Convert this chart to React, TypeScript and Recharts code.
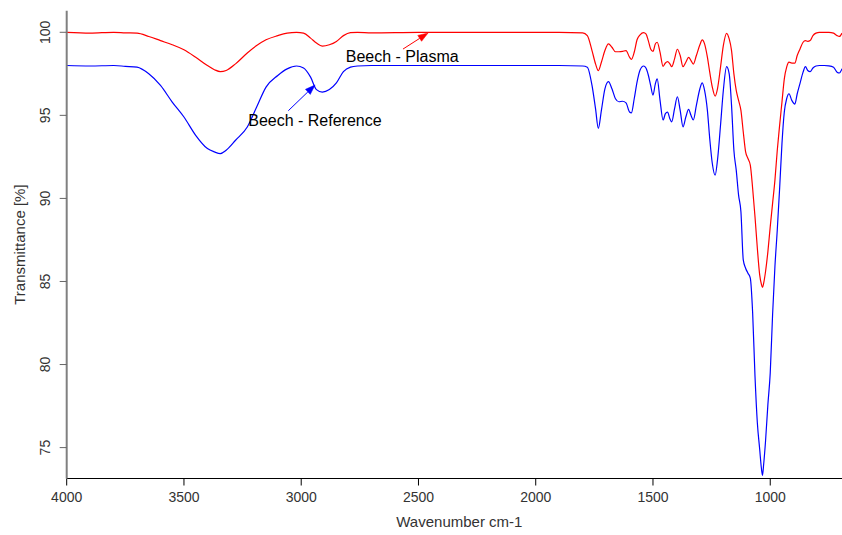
import { Line, LineChart, ReferenceDot, ReferenceLine, XAxis, YAxis } from 'recharts';

// FTIR spectra, wavenumbers in cm-1 (descending), transmittance in %
const WAVENUMBERS = [
  4000, 3900, 3800, 3750, 3700, 3650, 3600, 3550, 3500, 3450,
  3400, 3370, 3345, 3320, 3280, 3230, 3190, 3150, 3100, 3060,
  3020, 2990, 2960, 2935, 2910, 2880, 2850, 2820, 2790, 2760,
  2700, 2500, 2300, 2100, 1900, 1800, 1780, 1760, 1745, 1733,
  1720, 1705, 1690, 1675, 1660, 1645, 1630, 1615, 1600, 1592,
  1580, 1568, 1555, 1540, 1530, 1520, 1510, 1500, 1490, 1482,
  1470, 1457, 1447, 1438, 1428, 1420, 1408, 1396, 1384, 1372,
  1360, 1348, 1338, 1328, 1315, 1300, 1290, 1280, 1268, 1258,
  1247, 1235, 1225, 1212, 1200, 1186, 1175, 1165, 1155, 1145,
  1135, 1125, 1115, 1105, 1095, 1085, 1075, 1065, 1055, 1045,
  1038, 1033, 1028, 1020, 1010, 1000, 990, 980, 970, 960,
  950, 940, 930, 920, 908, 895, 885, 873, 860, 850,
  840, 830, 818, 805, 790, 770, 750, 730, 715, 705,
  694,
];

const PLASMA = [
  100.0, 99.95, 100.0, 99.97, 99.95, 99.75, 99.5, 99.25, 98.95, 98.5,
  98.0, 97.75, 97.63, 97.7, 98.1, 98.75, 99.2, 99.55, 99.8, 99.95,
  100.0, 99.95, 99.65, 99.35, 99.17, 99.25, 99.45, 99.8, 99.98, 100.0,
  99.97, 100.0, 100.0, 100.0, 100.0, 99.97, 99.8, 98.9, 98.1, 97.69,
  98.2, 98.9, 99.3, 99.1, 98.83, 98.83, 98.85, 98.9, 98.5, 98.37,
  98.8, 99.55, 99.85, 99.98, 99.9, 99.5, 99.0, 98.85, 99.3, 99.4,
  98.8, 97.95, 98.15, 98.23, 98.1, 97.93, 98.4, 98.98, 98.6, 97.93,
  98.2, 98.49, 98.3, 98.09, 98.6, 99.25, 99.54, 99.3, 98.5, 97.6,
  96.7, 96.16, 96.6, 97.9, 99.2, 99.94, 99.6, 98.9, 97.5, 96.5,
  95.9, 95.3, 94.0, 92.8, 92.4, 92.0, 90.6, 88.9, 87.0, 85.4,
  84.85, 84.64, 84.9, 85.6, 86.8, 88.3, 89.7, 91.1, 92.9, 94.4,
  95.8, 97.2, 97.9, 98.2, 98.15, 98.15, 98.6, 99.0, 99.4, 99.5,
  99.45, 99.5, 99.8, 99.95, 100.0, 100.0, 100.0, 99.95, 99.8, 99.75,
  99.95,
];

const REFERENCE = [
  98.0, 97.97, 98.0, 97.95, 97.9, 97.5, 96.8, 95.8, 94.9, 93.8,
  93.0, 92.8, 92.7, 92.9, 93.5, 94.3, 95.5, 96.7, 97.4, 97.8,
  97.97, 97.85, 97.3, 96.55, 96.4, 96.55, 96.95, 97.63, 97.9, 97.97,
  98.0, 98.0, 98.0, 98.0, 98.0, 97.97, 97.9, 96.8, 95.4, 94.22,
  95.3, 96.6, 97.03, 96.6, 96.0, 95.82, 95.85, 95.75, 95.2, 95.15,
  96.0, 97.0, 97.73, 97.97, 97.85, 97.43, 96.8, 96.22, 96.9, 97.2,
  95.92, 94.72, 95.1, 95.2, 94.8, 94.61, 95.4, 96.12, 95.3, 94.31,
  94.9, 95.36, 95.0, 94.72, 95.6, 96.6, 96.96, 96.5, 95.3, 93.6,
  92.1, 91.4, 92.3, 94.4, 96.5, 97.93, 97.5, 95.6, 92.9, 91.7,
  90.2, 89.2, 86.3, 85.8, 85.5, 85.2, 83.1, 79.3, 76.5, 74.9,
  73.8, 73.33, 74.0, 75.4, 77.6, 79.5, 83.0, 85.9, 88.1, 90.6,
  93.3, 95.2, 96.0, 96.3, 95.9, 95.68, 96.3, 96.93, 97.6, 97.93,
  97.7, 97.63, 97.85, 97.97, 98.0, 98.0, 97.98, 97.9, 97.6, 97.55,
  97.8,
];

const X_TICKS = [4000, 3500, 3000, 2500, 2000, 1500, 1000];
const Y_TICKS = [75, 80, 85, 90, 95, 100];
const X_DOMAIN = [694, 4000];
const Y_DOMAIN = [73.14, 101.3];

const ANNOTATIONS = [
  {
    key: 'plasma',
    label: 'Beech - Plasma',
    color: '#ff0000',
    from: { x: 2566, y: 98.99 },
    to: { x: 2459, y: 99.96 },
    text: { x: 2810, y: 98.23 },
  },
  {
    key: 'reference',
    label: 'Beech - Reference',
    color: '#0000ff',
    from: { x: 3055, y: 95.28 },
    to: { x: 2941, y: 96.83 },
    text: { x: 3226, y: 94.36 },
  },
];

const data = WAVENUMBERS.map((wn, i) => ({
  wn,
  plasma: PLASMA[i],
  reference: REFERENCE[i],
}));

const FONT = '"Liberation Sans", Arial, sans-serif';
const AXIS_TEXT = '#333';

function XTick({ x, y, payload }: any) {
  return (
    <text x={x} y={y + 14} textAnchor="middle" fontSize={14} fill={AXIS_TEXT} fontFamily={FONT}>
      {payload.value}
    </text>
  );
}

function YTick({ x, y, payload }: any) {
  const tx = x - 8;
  return (
    <text
      x={tx}
      y={y}
      transform={`rotate(-90, ${tx}, ${y})`}
      textAnchor="middle"
      fontSize={14}
      fill={AXIS_TEXT}
      fontFamily={FONT}
    >
      {payload.value}
    </text>
  );
}

function arrowShape(color: string) {
  return (props: any) => {
    const { x1, y1, x2, y2 } = props;
    const dx = x2 - x1;
    const dy = y2 - y1;
    const len = Math.hypot(dx, dy) || 1;
    const ux = dx / len;
    const uy = dy / len;
    const head = 10;
    const half = 3.5;
    const bx = x2 - ux * head;
    const by = y2 - uy * head;
    const pts = `${x2},${y2} ${bx - uy * half},${by + ux * half} ${bx + uy * half},${by - ux * half}`;
    return (
      <g>
        <line x1={x1} y1={y1} x2={bx} y2={by} stroke={color} strokeWidth={1} />
        <polygon points={pts} fill={color} stroke={color} strokeWidth={0.5} />
      </g>
    );
  };
}

function textShape(label: string) {
  return (props: any) => (
    <text x={props.cx} y={props.cy} fontSize={16} fill="#000" fontFamily={FONT}>
      {label}
    </text>
  );
}

export default function App() {
  return (
    <div style={{ position: 'absolute', left: 0, top: 0, background: '#fff' }}>
      <LineChart
        width={842}
        height={535}
        data={data}
        margin={{ top: 10.7, right: 0, bottom: 0, left: 0 }}
      >
        <XAxis
          dataKey="wn"
          type="number"
          domain={X_DOMAIN}
          reversed
          allowDataOverflow
          ticks={X_TICKS}
          tick={<XTick />}
          tickSize={7}
          tickLine={{ stroke: '#000' }}
          axisLine={{ stroke: '#000' }}
          height={56.5}
          label={{
            content: ({ viewBox }: any) => (
              <text
                x={viewBox.x + viewBox.width / 2 + 5}
                y={viewBox.y + 48.5}
                textAnchor="middle"
                fontSize={15}
                fill={AXIS_TEXT}
                fontFamily={FONT}
              >
                Wavenumber cm-1
              </text>
            ),
          }}
        />
        <XAxis
          xAxisId="top"
          orientation="top"
          dataKey="wn"
          type="number"
          domain={X_DOMAIN}
          reversed
          allowDataOverflow
          height={0}
          tick={false}
          tickLine={false}
          axisLine={{ stroke: '#000' }}
        />
        <YAxis
          type="number"
          domain={Y_DOMAIN}
          allowDataOverflow
          ticks={Y_TICKS}
          tick={<YTick />}
          tickSize={7}
          tickLine={{ stroke: '#666' }}
          axisLine={{ stroke: '#808080', strokeWidth: 2 }}
          width={66.7}
          label={{
            content: ({ viewBox }: any) => {
              const cx = viewBox.x + 25;
              const cy = viewBox.y + viewBox.height / 2;
              return (
                <text
                  x={cx}
                  y={cy}
                  transform={`rotate(-90, ${cx}, ${cy})`}
                  textAnchor="middle"
                  fontSize={15}
                  fill={AXIS_TEXT}
                  fontFamily={FONT}
                >
                  Transmittance [%]
                </text>
              );
            },
          }}
        />
        <Line
          type="monotone"
          dataKey="reference"
          stroke="#0000ff"
          strokeWidth={1.2}
          dot={false}
          isAnimationActive={false}
        />
        <Line
          type="monotone"
          dataKey="plasma"
          stroke="#ff0000"
          strokeWidth={1.2}
          dot={false}
          isAnimationActive={false}
        />
        {ANNOTATIONS.map((a) => (
          <ReferenceLine
            key={`${a.key}-arrow`}
            segment={[a.from, a.to]}
            shape={arrowShape(a.color)}
          />
        ))}
        {ANNOTATIONS.map((a) => (
          <ReferenceDot
            key={`${a.key}-text`}
            x={a.text.x}
            y={a.text.y}
            r={0}
            shape={textShape(a.label)}
          />
        ))}
      </LineChart>
    </div>
  );
}
